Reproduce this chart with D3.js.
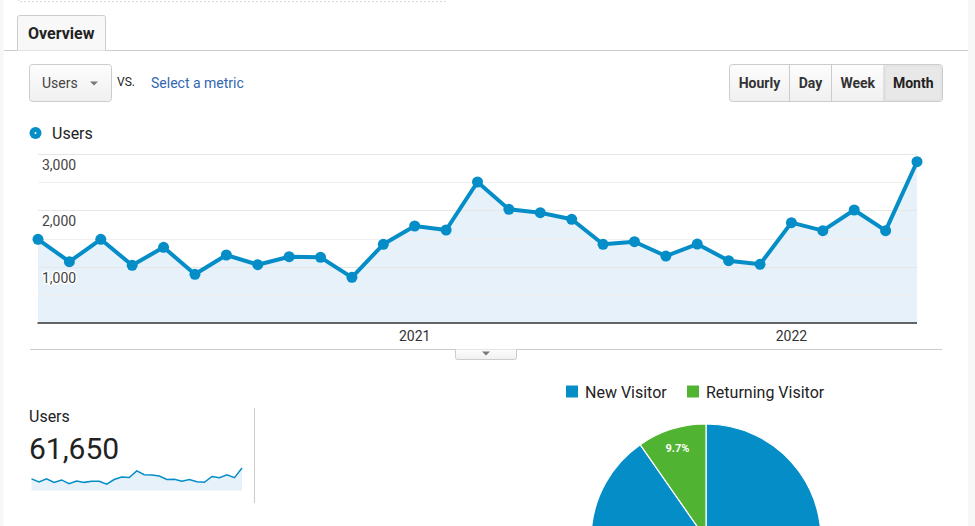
<!DOCTYPE html>
<html>
<head>
<meta charset="utf-8">
<script src="https://cdn.jsdelivr.net/npm/d3@7"></script>
<style>
  body { margin: 0; background: #fff; font-family: Roboto, "Open Sans", sans-serif; }
  svg text { font-family: Roboto, sans-serif; }
</style>
</head>
<body>
<svg class="Overview"></svg>
<script>
// monthly users, Jan 2020 .. May 2022
let months = d3.range(29).map(i => new Date(2020, i, 1));
let users = [1486, 1088, 1486, 1024, 1344, 865, 1207, 1035, 1177, 1166, 811, 1397,
             1722, 1651, 2503, 2018, 1958, 1841, 1397, 1443, 1189, 1402, 1106, 1042,
             1781, 1639, 2006, 1639, 2863];
let yTicks = [1000, 2000, 3000];
let yMinor = [500, 1500, 2500];
let yearTicks = [new Date(2021, 0, 1), new Date(2022, 0, 1)];
let totalUsers = 61650;
let visitorTypes = ["New Visitor", "Returning Visitor"];
let visitorShare = [90.3, 9.7];
let periods = ["Hourly", "Day", "Week", "Month"];

let blue = "#058dc7", green = "#50b432";

function drawOverview(){
    let width = 975, height = 526;
    let svg = d3.select(".Overview")
        .attr("width", width)
        .attr("height", height);

    let defs = svg.append("defs");
    let g1 = defs.append("linearGradient").attr("id", "btn").attr("x1", 0).attr("x2", 0).attr("y1", 0).attr("y2", 1);
    g1.append("stop").attr("offset", "0%").attr("stop-color", "#fdfdfd");
    g1.append("stop").attr("offset", "100%").attr("stop-color", "#f0f0f0");

    // page edges
    svg.append("rect").attr("x", 0).attr("y", 0).attr("width", 3.5).attr("height", height).style("fill", "#f7f7f7");
    svg.append("rect").attr("x", 968).attr("y", 0).attr("width", 7).attr("height", height).style("fill", "#f7f7f7");

    // dashed box above the tab
    svg.append("path")
        .attr("d", "M18.5,-5V1.5H445.5V-5")
        .style("fill", "none").style("stroke", "#d8d8d8").style("stroke-dasharray", "2,2");

    // tab
    svg.append("line").attr("x1", 4).attr("x2", 968).attr("y1", 50.5).attr("y2", 50.5).style("stroke", "#ccc");
    svg.append("path")
        .attr("d", "M17.5,50.5V17.5Q17.5,15.5 19.5,15.5H103.5Q105.5,15.5 105.5,17.5V50.5")
        .style("fill", "#f8f8f8").style("stroke", "#ccc");
    svg.append("text").attr("x", 28).attr("y", 39).text("Overview")
        .attr("font-size", 16).attr("font-weight", "bold").style("fill", "#222");

    // metric dropdown
    svg.append("rect").attr("x", 29.5).attr("y", 64.5).attr("width", 82).attr("height", 37).attr("rx", 3)
        .style("fill", "url(#btn)").style("stroke", "#ccc");
    svg.append("text").attr("x", 42).attr("y", 88).text("Users").attr("font-size", 14).style("fill", "#444");
    svg.append("path").attr("d", "M90,81.5h8l-4,4z").style("fill", "#777");
    svg.append("text").attr("x", 117).attr("y", 86).text("VS.").attr("font-size", 12).style("fill", "#222");
    svg.append("text").attr("x", 151).attr("y", 88).text("Select a metric").attr("font-size", 14).style("fill", "#3367b0");

    // period buttons
    let bx = [729.5, 789.5, 831.5, 884, 942.5];
    svg.append("rect").attr("x", 729.5).attr("y", 64.5).attr("width", 213).attr("height", 37).attr("rx", 3)
        .style("fill", "url(#btn)").style("stroke", "#ccc");
    svg.append("rect").attr("x", 884.5).attr("y", 65).attr("width", 57.5).attr("height", 36).attr("rx", 2)
        .style("fill", "#e3e3e3");
    svg.append("rect").attr("x", 886).attr("y", 66.5).attr("width", 54.5).attr("height", 33).attr("rx", 2)
        .style("fill", "#e8e8e8");
    svg.selectAll(".sep").data(bx.slice(1, 4)).join("line").attr("class", "sep")
        .attr("x1", d => d).attr("x2", d => d).attr("y1", 65).attr("y2", 101)
        .style("stroke", "#ccc");
    svg.selectAll(".period").data(periods).join("text").attr("class", "period")
        .attr("x", (d, i) => (bx[i] + bx[i + 1]) / 2).attr("y", 88)
        .attr("text-anchor", "middle").attr("font-size", 14).attr("font-weight", "bold")
        .style("fill", (d, i) => i == 3 ? "#222" : "#333").text(d => d);

    // legend
    svg.append("circle").attr("cx", 35.5).attr("cy", 133).attr("r", 6).style("fill", blue);
    svg.append("circle").attr("cx", 35.5).attr("cy", 133).attr("r", 1).style("fill", "#fff");
    svg.append("text").attr("x", 52).attr("y", 139).text("Users").attr("font-size", 16).style("fill", "#222");

    // main line chart
    let x = d3.scalePoint().domain(d3.range(months.length)).range([38, 917]);
    let y = d3.scaleLinear().domain([0, 3000]).range([323, 154]);
    let monthX = d => x(months.findIndex(m => +m == +d));

    let chart = svg.append("g");
    chart.append("path")
        .datum(users)
        .attr("d", d3.area().x((d, i) => x(i)).y0(y(0)).y1(d => y(d)))
        .style("fill", "#e6f1f9");
    chart.selectAll(".minor").data(yMinor).join("line").attr("class", "minor")
        .attr("x1", 38).attr("x2", 917).attr("y1", d => Math.round(y(d)) + 0.5).attr("y2", d => Math.round(y(d)) + 0.5)
        .style("stroke", "#f0f0f0");
    chart.selectAll(".major").data(yTicks).join("line").attr("class", "major")
        .attr("x1", 38).attr("x2", 917).attr("y1", d => Math.round(y(d)) + 0.5).attr("y2", d => Math.round(y(d)) + 0.5)
        .style("stroke", "#e6e6e6");
    chart.append("line").attr("x1", 37.5).attr("x2", 917).attr("y1", 323).attr("y2", 323)
        .style("stroke", "#333").style("stroke-width", 1.5);

    chart.append("path")
        .datum(users)
        .attr("d", d3.line().x((d, i) => x(i)).y(d => y(d)))
        .style("fill", "none").style("stroke", blue).style("stroke-width", 4).style("stroke-linejoin", "round");
    chart.selectAll(".pt").data(users).join("circle").attr("class", "pt")
        .attr("cx", (d, i) => x(i)).attr("cy", d => y(d)).attr("r", 5.5)
        .style("fill", blue);

    chart.selectAll(".ylab").data(yTicks).join("text").attr("class", "ylab")
        .attr("x", 42).attr("y", d => y(d) + 16)
        .attr("font-size", 14).style("fill", "#444")
        .style("stroke", "#fff").style("stroke-width", 3).style("paint-order", "stroke")
        .text(d => d3.format(",")(d));
    chart.selectAll(".xlab").data(yearTicks).join("text").attr("class", "xlab")
        .attr("x", d => monthX(d)).attr("y", 341)
        .attr("text-anchor", "middle").attr("font-size", 14).style("fill", "#333")
        .text(d => d3.timeFormat("%Y")(d));

    // bottom rule and handle
    svg.append("line").attr("x1", 30).attr("x2", 942).attr("y1", 349.5).attr("y2", 349.5).style("stroke", "#ccc");
    svg.append("path").attr("d", "M455.5,349.5V357.5Q455.5,359.5 457.5,359.5H514.5Q516.5,359.5 516.5,357.5V349.5")
        .style("fill", "url(#btn)").style("stroke", "#ccc");
    svg.append("path").attr("d", "M482,351.5h8l-4,4z").style("fill", "#777");

    // scorecard
    svg.append("text").attr("x", 29).attr("y", 422).text("Users").attr("font-size", 16).style("fill", "#222");
    svg.append("text").attr("x", 29).attr("y", 459).text(d3.format(",")(totalUsers))
        .attr("font-size", 30).style("fill", "#222");
    let sx = d3.scalePoint().domain(d3.range(users.length)).range([31.5, 242]);
    let sy = d3.scaleLinear().domain([0, d3.max(users)]).range([490.5, 468]);
    svg.append("path").datum(users)
        .attr("d", d3.area().x((d, i) => sx(i)).y0(sy(0)).y1(d => sy(d)))
        .style("fill", "#e6f1f9");
    svg.append("path").datum(users)
        .attr("d", d3.line().x((d, i) => sx(i)).y(d => sy(d)))
        .style("fill", "none").style("stroke", blue).style("stroke-width", 1.5);
    svg.append("line").attr("x1", 254.5).attr("x2", 254.5).attr("y1", 408).attr("y2", 503).style("stroke", "#ccc");

    // pie legend
    let c = d3.scaleOrdinal().domain(visitorTypes).range([blue, green]);
    let lx = [566, 687];
    svg.selectAll(".lsq").data(visitorTypes).join("rect").attr("class", "lsq")
        .attr("x", (d, i) => lx[i]).attr("y", 385.5).attr("width", 12).attr("height", 12)
        .style("fill", d => c(d));
    svg.selectAll(".ltx").data(visitorTypes).join("text").attr("class", "ltx")
        .attr("x", (d, i) => lx[i] + 19).attr("y", 397.5).attr("font-size", 16).style("fill", "#222")
        .text(d => d);

    // pie
    let r = 115;
    let pie = d3.pie().sort(null).value(d => d.v);
    let arcs = pie(visitorTypes.map((k, i) => ({k: k, v: visitorShare[i]})));
    let arc = d3.arc().innerRadius(0).outerRadius(r);
    let labelArc = d3.arc().innerRadius(r * 0.83).outerRadius(r * 0.83);
    let pg = svg.append("g").attr("transform", "translate(706,539)");
    pg.selectAll(".slice").data(arcs).join("path").attr("class", "slice")
        .attr("d", arc).style("fill", d => c(d.data.k))
        .style("stroke", "#fff").style("stroke-width", 1.2);
    pg.selectAll(".plab").data(arcs.filter(d => d.data.k == "Returning Visitor")).join("text").attr("class", "plab")
        .attr("transform", d => "translate(" + labelArc.centroid(d) + ")")
        .attr("text-anchor", "middle").attr("dy", ".35em")
        .attr("font-size", 11).attr("font-weight", "bold").style("fill", "#fff")
        .text(d => d.data.v + "%");
}

drawOverview();
</script>
</body>
</html>
